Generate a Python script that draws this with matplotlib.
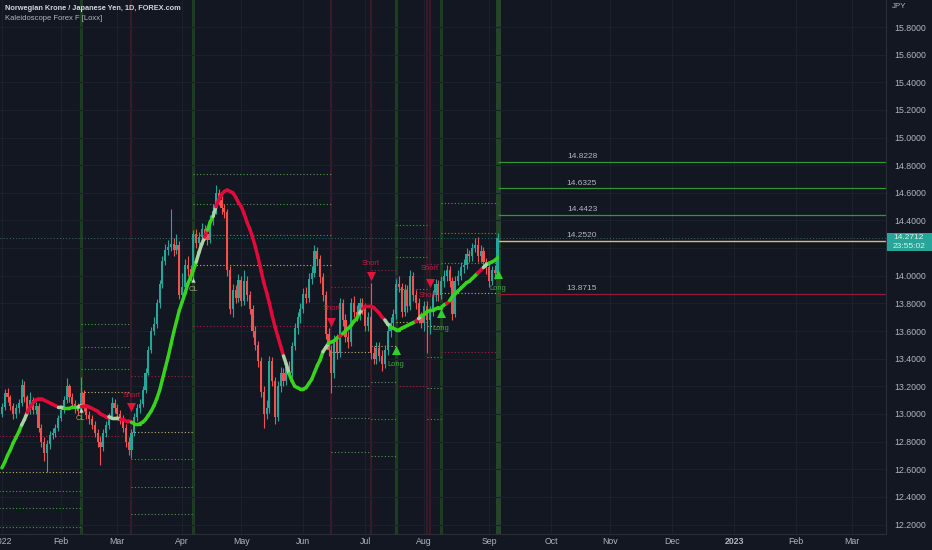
import numpy as np
import pandas as pd
import matplotlib
matplotlib.use("Agg")
import matplotlib.pyplot as plt
from matplotlib.collections import LineCollection
from matplotlib.patches import Rectangle

plt.rcParams['font.family'] = ['Liberation Sans', 'DejaVu Sans']

# ---------------- data ----------------
first_open = 13.00
closes = [13.05, 13.15, 13.12, 13.06, 13.00, 13.04, 13.08, 13.21, 13.12, 13.02,
          13.10, 13.03, 13.06, 12.90, 12.80, 12.72, 12.78, 12.85, 12.86, 12.90,
          12.97, 13.03, 13.10, 13.20, 13.12, 13.07, 13.04, 13.02, 13.15, 13.05,
          12.99, 12.96, 12.92, 12.86, 12.80, 12.76, 12.86, 12.92, 12.98, 13.08,
          13.04, 13.00, 12.96, 12.90, 12.80, 12.74, 12.86, 12.98, 13.04, 13.07,
          13.17, 13.30, 13.46, 13.60, 13.65, 13.80, 13.94, 14.11, 14.19, 14.21,
          14.23, 14.19, 14.22, 13.86, 13.92, 14.08, 14.05, 14.00, 14.30, 14.24,
          14.28, 14.34, 14.30, 14.26, 14.40, 14.47, 14.60, 14.55, 14.49, 14.46,
          14.04, 13.76, 13.90, 13.84, 13.97, 13.82, 13.96, 13.86, 13.76, 13.60,
          13.50, 13.38, 13.16, 13.00, 13.04, 13.38, 13.24, 12.98, 13.20, 13.30,
          13.24, 13.34, 13.30, 13.49, 13.62, 13.70, 13.76, 13.87, 13.84, 13.98,
          14.02, 14.18, 14.12, 13.99, 13.86, 13.58, 13.46, 13.30, 13.54, 13.44,
          13.80, 13.68, 13.56, 13.52, 13.80, 13.74, 13.71, 13.80, 13.76, 13.64,
          13.70, 13.44, 13.40, 13.48, 13.42, 13.36, 13.46, 13.60, 13.66, 13.72,
          13.94, 13.92, 13.74, 13.90, 13.78, 14.00, 13.86, 13.80, 13.70, 13.66,
          13.78, 13.68, 13.74, 13.86, 13.94, 13.86, 13.96, 14.00, 14.04, 13.96,
          13.72, 13.96, 14.00, 14.06, 14.08, 14.16, 14.14, 14.20, 14.22, 14.14,
          14.18, 14.10, 14.06, 13.96, 14.04, 14.02, 14.2712]
highs = [13.08, 13.18, 13.19, 13.14, 13.08, 13.07, 13.11, 13.25, 13.24, 13.14,
         13.16, 13.12, 13.09, 13.08, 12.93, 12.83, 12.81, 12.88, 12.90, 12.93,
         12.99, 13.06, 13.13, 13.26, 13.22, 13.15, 13.10, 13.08, 13.27, 13.17,
         13.07, 13.02, 12.99, 12.95, 12.89, 12.84, 12.89, 12.95, 13.01, 13.12,
         13.11, 13.07, 13.03, 12.99, 12.93, 12.83, 12.89, 13.01, 13.07, 13.11,
         13.20, 13.33, 13.49, 13.63, 13.70, 13.83, 13.97, 14.14, 14.23, 14.26,
         14.48, 14.27, 14.30, 14.25, 14.02, 14.12, 14.14, 14.08, 14.33, 14.34,
         14.32, 14.38, 14.37, 14.33, 14.44, 14.52, 14.66, 14.63, 14.58, 14.52,
         14.48, 14.07, 13.94, 13.93, 14.01, 14.00, 14.04, 14.00, 13.89, 13.79,
         13.64, 13.53, 13.41, 13.20, 13.10, 13.42, 13.41, 13.27, 13.24, 13.34,
         13.33, 13.37, 13.38, 13.52, 13.66, 13.74, 13.80, 13.91, 13.92, 14.02,
         14.07, 14.22, 14.21, 14.15, 14.02, 13.89, 13.62, 13.50, 13.57, 13.58,
         13.84, 13.83, 13.72, 13.60, 13.84, 13.85, 13.79, 13.84, 13.84, 13.80,
         13.74, 13.95, 13.49, 13.52, 13.52, 13.46, 13.50, 13.64, 13.70, 13.76,
         13.98, 14.00, 13.95, 13.94, 13.93, 14.04, 14.03, 13.90, 13.84, 13.74,
         13.82, 13.82, 13.78, 13.90, 13.98, 13.97, 14.00, 14.04, 14.08, 14.07,
         13.99, 14.00, 14.04, 14.10, 14.12, 14.20, 14.19, 14.24, 14.27, 14.28,
         14.22, 14.21, 14.13, 14.09, 14.07, 14.08, 14.31]
lows = [12.98, 13.03, 13.09, 13.03, 12.96, 12.97, 13.01, 13.06, 13.09, 12.99,
        13.00, 13.00, 13.00, 12.87, 12.76, 12.66, 12.58, 12.75, 12.82, 12.83,
        12.88, 12.95, 13.01, 13.08, 13.09, 13.04, 13.01, 12.99, 13.00, 13.02,
        12.96, 12.93, 12.89, 12.83, 12.76, 12.63, 12.73, 12.83, 12.89, 12.96,
        13.01, 12.97, 12.93, 12.87, 12.76, 12.70, 12.68, 12.84, 12.95, 13.01,
        13.05, 13.15, 13.28, 13.44, 13.57, 13.62, 13.77, 13.91, 14.08, 14.15,
        14.18, 14.14, 14.16, 13.83, 13.82, 13.89, 14.00, 13.96, 13.98, 14.20,
        14.20, 14.25, 14.26, 14.22, 14.24, 14.37, 14.45, 14.51, 14.45, 14.42,
        14.00, 13.72, 13.70, 13.80, 13.81, 13.78, 13.79, 13.82, 13.72, 13.56,
        13.46, 13.34, 13.12, 12.90, 12.96, 13.01, 13.20, 12.93, 12.95, 13.16,
        13.20, 13.21, 13.26, 13.27, 13.46, 13.58, 13.66, 13.73, 13.80, 13.81,
        13.94, 13.99, 14.08, 13.95, 13.82, 13.54, 13.42, 13.15, 13.26, 13.40,
        13.41, 13.64, 13.52, 13.48, 13.49, 13.70, 13.67, 13.68, 13.72, 13.60,
        13.60, 13.40, 13.36, 13.36, 13.38, 13.31, 13.33, 13.43, 13.56, 13.62,
        13.69, 13.88, 13.70, 13.71, 13.74, 13.75, 13.82, 13.76, 13.66, 13.62,
        13.60, 13.44, 13.58, 13.71, 13.82, 13.82, 13.83, 13.92, 13.96, 13.92,
        13.68, 13.70, 13.93, 13.97, 14.02, 14.05, 14.10, 14.11, 14.17, 14.10,
        14.10, 14.06, 14.01, 13.92, 13.93, 13.98, 14.00]

# Kaleidoscope smooth line, one value per bar
line_vals = [12.61, 12.65, 12.70, 12.74, 12.79, 12.83, 12.87, 12.92, 12.96, 13.01,
             13.05, 13.08, 13.10, 13.11, 13.11, 13.10, 13.09, 13.08, 13.07, 13.06,
             13.05, 13.05, 13.04, 13.04, 13.04, 13.05, 13.05, 13.05, 13.06, 13.06,
             13.06, 13.05, 13.04, 13.03, 13.02, 13.00, 12.99, 12.98, 12.98, 12.97,
             12.97, 12.97, 12.96, 12.96, 12.95, 12.95, 12.94, 12.93, 12.93, 12.93,
             12.94, 12.96, 12.99, 13.02, 13.06, 13.11, 13.17, 13.25, 13.33, 13.41,
             13.50, 13.59, 13.67, 13.75, 13.81, 13.87, 13.94, 13.99, 14.04, 14.10,
             14.17, 14.23, 14.28, 14.33, 14.39, 14.43, 14.50, 14.55, 14.59, 14.61,
             14.62, 14.61, 14.60, 14.57, 14.53, 14.50, 14.45, 14.39, 14.34, 14.28,
             14.21, 14.13, 14.04, 13.95, 13.88, 13.80, 13.71, 13.63, 13.56, 13.49,
             13.42, 13.36, 13.29, 13.24, 13.20, 13.19, 13.18, 13.18, 13.19, 13.22,
             13.25, 13.30, 13.35, 13.39, 13.45, 13.48, 13.51, 13.52, 13.53, 13.55,
             13.56, 13.58, 13.60, 13.62, 13.64, 13.67, 13.69, 13.73, 13.76, 13.78,
             13.78, 13.78, 13.77, 13.75, 13.73, 13.70, 13.68, 13.65, 13.63, 13.62,
             13.61, 13.61, 13.62, 13.63, 13.64, 13.65, 13.66, 13.67, 13.69, 13.71,
             13.72, 13.74, 13.75, 13.75, 13.76, 13.77, 13.77, 13.79, 13.80, 13.82,
             13.85, 13.87, 13.89, 13.91, 13.93, 13.95, 13.96, 13.98, 14.00, 14.02,
             14.04, 14.06, 14.08, 14.09, 14.10, 14.11, 14.13]
# state per bar: g = long, r = short, l = neutral
line_state = ("g" * 8 + "l" * 2 + "r" * 11 + "l" * 2 + "g" * 5 + "l" * 1 + "r" * 10 +
              "l" * 4 + "r" * 4 + "g" * 23 + "l" * 3 + "r" * 1 + "g" * 2 + "l" * 1 +
              "r" * 24 + "l" * 2 + "g" * 12 + "l" * 2 + "g" * 4 + "r" * 1 + "g" * 6 +
              "l" * 1 + "r" * 8 + "l" * 2 + "g" * 9 + "r" * 1 + "l" * 1 + "g" * 9 +
              "r" * 1 + "g" * 10 + "r" * 2 + "l" * 2 + "g" * 3)

# signal bars (vertical highlights)
long_bars_v = [28, 68, 140, 156]
short_bars_v = [46, 117, 131, 151, 152]
last_bar = 176

# trade level sets
trade_start = [-1, 28, 46, 68, 117, 131, 140, 151, 156]
trade_end = [28, 46, 68, 117, 131, 140, 151, 156, 176]
trade_entry = [12.58, 13.161, 12.872, 14.078, 13.448, 13.49, 13.668, 13.638, 13.877]
trade_stop = [12.84, 12.84, 13.275, 13.639, 13.921, 14.042, 13.202, 14.086, 13.45]
trade_tp1 = [12.445, 13.323, 12.674, 14.295, 13.205, 13.229, 13.901, 13.414, 14.094]
trade_tp2 = [12.32, 13.487, 12.474, 14.517, 12.971, 12.964, 14.134, 13.19, 14.311]
trade_tp3 = [12.184, 13.649, 12.276, 14.734, 12.727, 12.698, 14.367, 12.966, 14.529]

final_tps = [14.8228, 14.6325, 14.4423]
final_entry = 14.2520
final_stop = 13.8715
last_price = 14.2712
countdown = "23:55:02"

short_idx = [46, 117, 131, 152]
short_tri = [13.05, 13.668, 13.998, 13.95]
short_txt = [13.137, 13.76, 14.092, 14.05]
extra_short_idx = [151]
extra_short_txt = [13.86]
long_idx = [140, 156, 176]
long_tri = [13.463, 13.73, 14.013]
long_txt = [13.361, 13.62, 13.91]
cl_idx = [28, 68]
cl_tri = [13.03, 13.97]
cl_txt = [12.965, 13.90]

y_ticks = [12.2, 12.4, 12.6, 12.8, 13.0, 13.2, 13.4, 13.6, 13.8, 14.0,
           14.2, 14.4, 14.6, 14.8, 15.0, 15.2, 15.4, 15.6, 15.8]

title1 = "Norwegian Krone / Japanese Yen, 1D, FOREX.com"
title2 = "Kaleidoscope Forex F [Loxx]"

# ---------------- figure ----------------
W, H = 932, 550
BG = '#131722'
TXT = '#b2b5be'
fig = plt.figure(figsize=(W / 100, H / 100), dpi=100, facecolor=BG)
ax = fig.add_axes([0, 16 / H, 886 / W, 534 / H])
ax.set_facecolor(BG)

n = len(closes)
idx = np.arange(n)
c = np.array(closes)
o = np.r_[first_open, c[:-1]]
hi = np.array(highs)
lo = np.array(lows)

ax.set_xlim(-0.675, 313.96)
ax.set_ylim(12.1314, 15.9954)

# time axis from business days
full = pd.bdate_range("2022-01-03", "2023-03-31")
m_idx, m_lab = [], []
prev = None
for k, d in enumerate(full):
    if prev is None or d.month != prev:
        m_idx.append(k)
        m_lab.append(str(d.year) if d.month == 1 else d.strftime('%b'))
    prev = d.month

ax.set_xticks(m_idx)
ax.set_xticklabels(m_lab)
for t, lab in zip(ax.get_xticklabels(), m_lab):
    if lab == '2023':
        t.set_fontweight('bold')
ax.set_yticks(y_ticks)
# the 14.2000 label is hidden behind the last-price tag in the reference
ax.set_yticklabels([("" if abs(v - 14.2) < 1e-9 else f"{v:.4f}") for v in y_ticks])
ax.yaxis.tick_right()
ax.tick_params(axis='both', length=0, colors=TXT, labelsize=6.3)
ax.tick_params(axis='y', pad=6)
ax.tick_params(axis='x', pad=2)
ax.grid(True, color='#1c202c', linewidth=0.8)
ax.set_axisbelow(True)
for s in ['top', 'left']:
    ax.spines[s].set_visible(False)
ax.spines['right'].set_color('#2a2e39')
ax.spines['bottom'].set_color('#2a2e39')

# vertical signal highlights
for b in long_bars_v:
    ax.axvline(b, color='#1d3d22', lw=2.2, zorder=0.5)
for b in short_bars_v:
    ax.axvline(b, color='#3b1a27', lw=1.5, zorder=0.5)
ax.axvspan(last_bar - 0.5, last_bar + 1.3, color='#24452a', zorder=0.5, lw=0)

# dotted trade levels
dot = (0, (1, 2))
GD, YD, RD = '#3f9f3f', '#c4b458', '#a32040'
for s, e, en, st, t1, t2, t3 in zip(trade_start, trade_end, trade_entry, trade_stop,
                                    trade_tp1, trade_tp2, trade_tp3):
    for v in (t1, t2, t3):
        ax.hlines(v, s, e, colors=GD, lw=0.8, linestyles=dot, zorder=1)
    ax.hlines(en, s, e, colors=YD, lw=0.8, linestyles=dot, zorder=1)
    ax.hlines(st, s, e, colors=RD, lw=0.8, linestyles=dot, zorder=1)

# current price line
ax.axhline(last_price, color='#1e6e68', lw=0.75, ls=dot, zorder=1)

# final solid levels with labels
xr = ax.get_xlim()[1]
lab_x = 206
for v in final_tps:
    ax.hlines(v, last_bar, xr, colors='#2f9a2f', lw=0.9, zorder=2)
    ax.text(lab_x, v + 0.012, f"{v:.4f}", color=TXT, fontsize=6, ha='center', va='bottom', zorder=5)
ax.hlines(final_entry, last_bar, xr, colors='#cdbf86', lw=1.0, zorder=2)
ax.text(lab_x, final_entry + 0.012, f"{final_entry:.4f}", color=TXT, fontsize=6, ha='center', va='bottom', zorder=5)
ax.hlines(final_stop, last_bar, xr, colors='#8e1d30', lw=0.9, zorder=2)
ax.text(lab_x, final_stop + 0.012, f"{final_stop:.4f}", color=TXT, fontsize=6, ha='center', va='bottom', zorder=5)

# candles
up = c >= o
col = np.where(up, '#26a69a', '#ef5350')
ax.vlines(idx, lo, hi, colors=col, lw=0.8, zorder=3)
body = np.maximum(np.abs(c - o), 0.008)
ax.bar(idx, body, bottom=np.minimum(o, c), width=0.76, color=col, linewidth=0, zorder=3)

# smooth line
cmap = {'g': '#36d41c', 'r': '#e3093a', 'l': '#a9d3a6'}
lv = np.array(line_vals)
segs = [[(i, lv[i]), (i + 1, lv[i + 1])] for i in range(n - 1)]
scol = [cmap[line_state[i + 1]] for i in range(n - 1)]
lc = LineCollection(segs, colors=scol, linewidths=2.5, capstyle='round', zorder=4)
ax.add_collection(lc)

# markers
ax.scatter(short_idx, short_tri, marker='v', s=42, color='#e0143c', zorder=6, linewidths=0)
for x, y in zip(short_idx + extra_short_idx, short_txt + extra_short_txt):
    ax.text(x, y, "Short", color='#c8183c', fontsize=5.4, ha='center', va='center', zorder=6)
ax.scatter(long_idx, long_tri, marker='^', s=42, color='#2ed12e', zorder=6, linewidths=0)
for x, y in zip(long_idx, long_txt):
    ax.text(x, y, "Long", color='#3fa83f', fontsize=5.4, ha='center', va='center', zorder=6)
ax.scatter(cl_idx, cl_tri, marker='^', s=10, color='#c8d8c0', zorder=6, linewidths=0)
for x, y in zip(cl_idx, cl_txt):
    ax.text(x, y, "CL", color='#b4a44c', fontsize=5.4, ha='center', va='center', zorder=6)

# header texts
fig.text(5 / W, 1 - 9 / H, title1, color='#d1d4dc', fontsize=5.35, fontweight='bold', ha='left', va='center')
fig.text(5 / W, 1 - 19 / H, title2, color=TXT, fontsize=5.5, ha='left', va='center')
fig.text(899 / W, 1 - 7 / H, "JPY", color=TXT, fontsize=5.8, ha='center', va='center')

# last price tag
fig.patches.append(Rectangle((887 / W, 1 - 251 / H), 45 / W, 18 / H, transform=fig.transFigure,
                             facecolor='#26a69a', edgecolor='none', zorder=10))
fig.text(909 / W, 1 - 237.5 / H, f"{last_price:.4f}", color='#d8f5dc', fontsize=6, ha='center', va='center', zorder=11)
fig.text(909 / W, 1 - 246.5 / H, countdown, color='#d8f5dc', fontsize=6, ha='center', va='center', zorder=11)

fig.savefig("out.png", dpi=100, facecolor=BG)
